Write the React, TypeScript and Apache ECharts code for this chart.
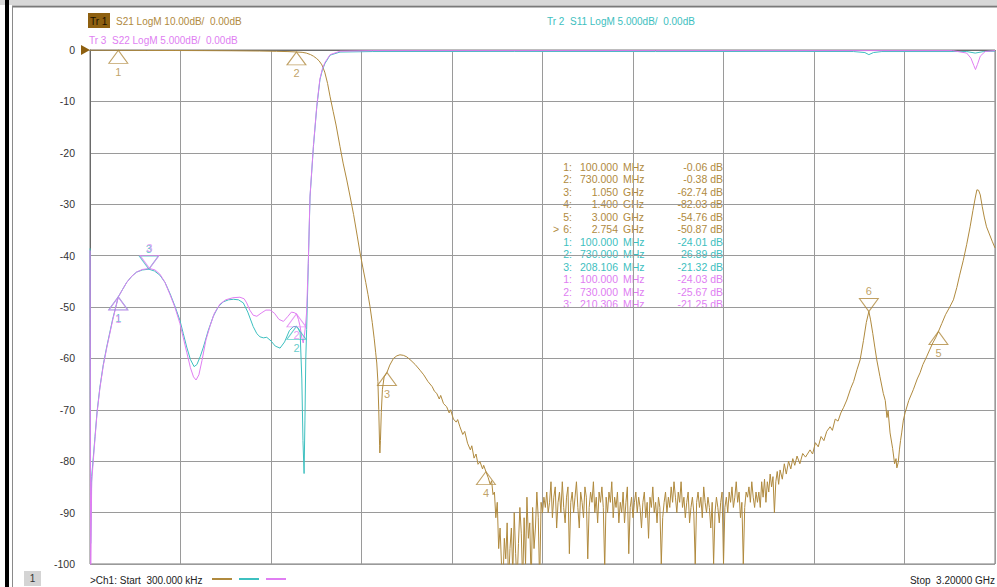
import React, { useEffect, useRef } from "react";
import * as echarts from "echarts";

// ---------- colours ----------
const S21_COLOR = "#B08A3E";
const S11_COLOR = "#3DC0C0";
const S22_COLOR = "#E07EF2";
const TR1_BOX = "#8E6010";
const FONT = "Liberation Sans, Arial, sans-serif";

// ---------- sweep ----------
const startMHz = 0.3;
const stopMHz = 3200;

// ---------- header labels ----------
const tr1Label = "Tr 1";
const tr1Text = "S21 LogM 10.00dB/  0.00dB";
const tr2Text = "Tr 2  S11 LogM 5.000dB/  0.00dB";
const tr3Text = "Tr 3  S22 LogM 5.000dB/  0.00dB";

// ---------- S21 (10 dB/div), [MHz, dB] ----------
const s21Head: [number, number][] = [
  [0.3, -0.02], [50, -0.04], [100, -0.06], [200, -0.08], [300, -0.1], [400, -0.12],
  [500, -0.15], [600, -0.2], [660, -0.26], [700, -0.31], [730, -0.38], [750, -0.45],
  [765, -0.6], [780, -0.9], [790, -1.2], [800, -1.6], [810, -2.1], [820, -2.9],
  [830, -4.3], [840, -6.5], [849, -9.1], [860, -12], [870, -14.6], [884, -18.8],
  [895, -22], [908, -25.3], [920, -28.6], [932, -32], [945, -36.2], [955, -39.5],
  [965, -42.4], [975, -45.2], [983, -47.6], [990, -49.9], [998, -53], [1005, -56.2],
  [1010, -58.8], [1014, -60.9], [1018, -64.5], [1021, -70], [1024, -77], [1025, -78.4],
  [1027, -76], [1030, -70.5], [1034, -66], [1040, -63.6], [1050, -62.74], [1060, -61.3],
  [1073, -60], [1085, -59.5], [1096, -59.3], [1108, -59.4], [1120, -59.7], [1135, -60.4],
  [1150, -61.2], [1167, -62.3], [1180, -63.2], [1195, -64.5], [1210, -65.5], [1218, -66.4],
  [1226, -66.8], [1235, -67.9], [1240, -67.2], [1250, -68.8], [1261, -69.4], [1270, -70.6],
  [1275, -70.0], [1285, -71.8], [1295, -72.4], [1300, -71.9], [1308, -73.3], [1318, -74.8],
  [1325, -74.2], [1335, -76.5], [1345, -77.8], [1350, -77.0], [1358, -79.4], [1365, -78.6],
  [1372, -80.6], [1379, -80.1], [1388, -81.5], [1392, -80.8], [1400, -82.03], [1408, -83.2],
  [1415, -84.5], [1420, -83.8], [1425, -86.5],
];

// noise floor, sweep points every 5 MHz from 1430 MHz
const noiseStartMHz = 1430;
const noiseStepMHz = 5;
const s21NoiseDb: number[] = [
  -86, -91, -88, -97, -93, -100, -104, -95, -99, -92, -104, -97, -93, -102, -90, -98, -104, -96,
  -89, -94, -104, -91, -100, -87, -95, -92, -104, -89, -97, -93, -86, -91, -104, -88, -90,
  -87, -89, -86, -90, -88, -84, -91, -87, -85, -93, -88, -86, -90, -84, -89, -92, -87, -85,
  -98, -88, -86, -90, -87, -84, -89, -93, -86, -88, -91, -85, -87, -99, -89, -86, -88, -84,
  -90, -87, -92, -86, -88, -85, -89, -101, -87, -90, -86, -88, -84, -91, -87, -89, -86, -92, -88,
  -90, -86, -92, -88, -85, -98, -89, -87, -91, -88,
  -86, -90, -87, -89, -93, -88, -86, -91, -88, -95,
  -87, -89, -85, -90, -88, -92, -87, -89, -100, -91,
  -88, -86, -90, -87, -89, -85, -88, -84, -87, -90,
  -86, -88, -84, -89, -87, -91, -88, -86, -92, -89,
  -87, -90, -100, -88, -86, -89, -87, -91, -85, -88,
  -90, -87, -89, -93, -88, -100, -90, -87, -89, -92,
  -88, -86, -100, -89, -87, -90, -86, -88, -85, -89,
  -87, -84, -88, -86, -91, -88, -100, -89, -86, -87,
  -85, -88, -84, -87, -89, -86, -88,
];

const s21Tail: [number, number][] = [
  [2365, -86], [2370, -89], [2375, -84], [2380, -87], [2385, -83.5], [2390, -88], [2395, -84],
  [2400, -86], [2405, -82.5], [2410, -85], [2415, -83], [2420, -90], [2425, -84], [2430, -82],
  [2435, -84.5], [2440, -81.7], [2448, -83.5], [2455, -80.5], [2462, -82.5], [2470, -80],
  [2478, -81.5], [2485, -79.5], [2492, -80.8], [2500, -79], [2510, -80.5], [2520, -78.5],
  [2530, -79.2], [2546, -77.8], [2555, -78.6], [2565, -76.4], [2575, -77.2], [2585, -75.2],
  [2595, -76], [2605, -74.2], [2617, -73.3], [2625, -74], [2635, -71.8], [2645, -72.2],
  [2655, -70.6], [2665, -69.5], [2676, -68.1], [2690, -65.8], [2700, -64.5], [2712, -62.2],
  [2723, -60.3], [2735, -56.5], [2745, -53], [2754, -50.87], [2760, -52.5], [2768, -55.2],
  [2775, -57.8], [2782, -60.3], [2793, -63.5], [2805, -66.8], [2812, -68.2], [2818, -71.5],
  [2822, -70.2], [2829, -74.5], [2838, -77.5], [2845, -80.5], [2850, -79.5], [2853, -81.3],
  [2858, -80.2], [2862, -77.8], [2866, -76], [2870, -74.5], [2876, -72], [2882, -70.6],
  [2895, -68.2], [2911, -66.1], [2925, -64], [2935, -62.8], [2945, -61.2], [2958, -59.7],
  [2970, -58.2], [2980, -57], [2990, -56], [3000, -54.76], [3012, -53.2], [3025, -51.5],
  [3040, -50], [3053, -48.6], [3065, -46.2], [3075, -43.8], [3088, -40.9], [3100, -37.8],
  [3112, -34.4], [3122, -31.2], [3130, -28.8], [3136, -27.2], [3142, -27.3], [3148, -28.2],
  [3155, -30.5], [3162, -32.5], [3170, -34.4], [3180, -35.8], [3190, -37.2], [3200, -38.5],
];

// ---------- S11 (5 dB/div), [MHz, dB] ----------
const s11Curve: [number, number][] = [
  [0.3, -19.3], [2.3, -48], [6, -41.5], [12, -39.5], [17.7, -37.6], [25, -35.2], [35, -32.8],
  [47, -30.6], [59, -28.9], [80, -26.2], [100, -24.01], [115, -23.3], [130, -22.6], [148, -22],
  [165, -21.6], [185, -21.4], [208.106, -21.32], [228, -21.5], [247, -21.9], [265, -22.6],
  [283, -23.7], [300, -24.9], [318, -26.3], [330, -27.6], [342, -28.9], [355, -30.1],
  [368, -30.8], [378, -30.6], [390, -29.8], [401, -28.9], [418, -27.3], [436, -25.9],
  [453, -25], [471, -24.5], [490, -24.3], [507, -24.25], [525, -24.3], [542, -24.6],
  [558, -25.5], [577, -26.9], [590, -27.6], [601, -27.9], [613, -28.0], [625, -27.95],
  [640, -28.3], [655, -28.8], [672, -29], [688, -28.4], [705, -27.3], [719, -26.9],
  [730, -26.89], [737, -27.1], [743, -27.5], [749, -32], [753, -38], [757, -41.2], [760, -36],
  [763, -30], [766, -27.2], [772, -20.75], [778, -14.3], [790, -9.4], [802, -5.5], [813, -2.9],
  [822, -1.9], [831, -1.3], [849, -0.5], [884, -0.2], [1000, -0.15], [1500, -0.14],
  [2000, -0.15], [2500, -0.14], [2700, -0.15], [2740, -0.25], [2754, -0.45], [2770, -0.25],
  [2800, -0.15], [3100, -0.15], [3130, -0.3], [3160, -0.15], [3200, -0.12],
];

// ---------- S22 (5 dB/div), [MHz, dB] ----------
const s22Curve: [number, number][] = [
  [0.3, -19.5], [2.3, -52], [6, -42], [12, -39.8], [17.7, -37.8], [25, -35.3], [35, -32.9],
  [47, -30.7], [59, -29], [80, -26.3], [100, -24.03], [115, -23.3], [130, -22.6], [148, -22],
  [165, -21.6], [185, -21.35], [210.306, -21.25], [230, -21.4], [247, -21.8], [265, -22.6],
  [283, -23.8], [300, -25], [318, -26.6], [330, -28], [342, -29.4], [355, -30.9], [366, -31.8],
  [375, -32.1], [385, -31.6], [396, -30.2], [410, -28.2], [425, -26.8], [440, -25.6],
  [460, -24.7], [480, -24.3], [505, -24.1], [530, -24.05], [545, -24.2], [554, -24.6],
  [565, -25.3], [577, -25.8], [590, -25.9], [605, -25.6], [622, -25.3], [637, -25.3],
  [652, -25.6], [668, -26.2], [684, -26.4], [700, -25.9], [712, -25.5], [722, -25.55],
  [730, -25.67], [737, -26.2], [743, -26.9], [749, -28], [754, -28.5], [758, -27.8],
  [762, -26.8], [766, -25.5], [772, -20.5], [778, -14.2], [790, -9.3], [802, -5.4],
  [813, -2.8], [822, -1.8], [831, -1.2], [849, -0.45], [884, -0.12], [1000, -0.06],
  [2000, -0.06], [3050, -0.06], [3100, -0.3], [3115, -0.8], [3125, -1.5], [3131, -1.9],
  [3138, -1.4], [3148, -0.6], [3165, -0.15], [3200, -0.06],
];

// ---------- markers ----------
const s21MarkerIds = [1, 2, 3, 4, 5, 6];
const s21MarkerMHz = [100, 730, 1050, 1400, 3000, 2754];
const s21MarkerDb = [-0.06, -0.38, -62.74, -82.03, -54.76, -50.87];
const s21MarkerDown = [false, false, false, false, false, true];
const s21ActiveMarker = 6;

const s11MarkerIds = [1, 2, 3];
const s11MarkerMHz = [100, 730, 208.106];
const s11MarkerDb = [-24.01, -26.89, -21.32];
const s11MarkerDown = [false, false, true];

const s22MarkerIds = [1, 2, 3];
const s22MarkerMHz = [100, 730, 210.306];
const s22MarkerDb = [-24.03, -25.67, -21.25];
const s22MarkerDown = [false, false, true];

const UP_TRI = "path://M9.5,0 L19,13 L0,13 Z";
const DOWN_TRI = "path://M0,0 L19,0 L9.5,13 Z";

function markerSeries(
  ids: number[], mhz: number[], db: number[], down: boolean[], color: string, yAxisIndex: number, wantDown: boolean
) {
  const data: any[] = [];
  ids.forEach((id, i) => {
    if (down[i] === wantDown) data.push({ value: [mhz[i], db[i]], name: String(id) });
  });
  return {
    type: "scatter",
    yAxisIndex,
    data,
    symbol: wantDown ? DOWN_TRI : UP_TRI,
    symbolSize: [19, 13],
    symbolOffset: [0, wantDown ? -6.5 : 6.5],
    itemStyle: { color: "rgba(0,0,0,0)", borderColor: color, borderWidth: 1 },
    label: {
      show: true,
      position: "inside",
      offset: [0, wantDown ? -14 : 15],
      formatter: (p: any) => p.name,
      color,
      fontSize: 11,
      fontFamily: FONT,
    },
    emphasis: { disabled: true },
    z: 5,
  };
}

function fmtFreq(f: number): [string, string] {
  if (f < 1000) return [f.toFixed(3), "MHz"];
  return [(f / 1000).toFixed(3), "GHz"];
}

export default function App() {
  const ref = useRef<HTMLDivElement>(null);

  useEffect(() => {
    if (!ref.current) return;
    const chart = echarts.init(ref.current, undefined, { renderer: "svg" });

    const s21Data: [number, number][] = [
      ...s21Head,
      ...s21NoiseDb.map((v, i) => [noiseStartMHz + i * noiseStepMHz, v] as [number, number]),
      ...s21Tail,
    ];

    // marker table rows
    const rows: { color: string; active: boolean; id: number; f: number; db: number }[] = [];
    s21MarkerIds.forEach((id, i) =>
      rows.push({ color: S21_COLOR, active: id === s21ActiveMarker, id, f: s21MarkerMHz[i], db: s21MarkerDb[i] })
    );
    s11MarkerIds.forEach((id, i) =>
      rows.push({ color: S11_COLOR, active: false, id, f: s11MarkerMHz[i], db: s11MarkerDb[i] })
    );
    s22MarkerIds.forEach((id, i) =>
      rows.push({ color: S22_COLOR, active: false, id, f: s22MarkerMHz[i], db: s22MarkerDb[i] })
    );
    const tableEls: any[] = [];
    rows.forEach((r, i) => {
      const y = 166.5 + i * 12.5;
      const [fv, fu] = fmtFreq(r.f);
      const base = { fontSize: 10.5, fontFamily: FONT, fill: r.color, verticalAlign: "middle" };
      if (r.active) tableEls.push({ type: "text", x: 553, y, style: { ...base, text: ">", align: "left" } });
      tableEls.push({ type: "text", x: 572, y, style: { ...base, text: `${r.id}:`, align: "right" } });
      tableEls.push({ type: "text", x: 618, y, style: { ...base, text: fv, align: "right" } });
      tableEls.push({ type: "text", x: 623, y, style: { ...base, text: fu, align: "left" } });
      tableEls.push({ type: "text", x: 723, y, style: { ...base, text: `${r.db.toFixed(2)} dB`, align: "right" } });
    });

    const txt = (x: number, y: number, text: string, fill: string, align = "left", size = 10) => ({
      type: "text",
      x,
      y,
      silent: true,
      style: { text, fill, fontSize: size, fontFamily: FONT, align, verticalAlign: "middle" },
    });

    const option: any = {
      animation: false,
      backgroundColor: "#ffffff",
      grid: { left: 90, top: 50, width: 905, height: 514, show: true, borderColor: "#7a7a7a", borderWidth: 1 },
      xAxis: {
        type: "value",
        min: 0,
        max: stopMHz,
        interval: 320,
        axisLabel: { show: false },
        axisTick: { show: false },
        axisLine: { show: true, lineStyle: { color: "#6a6a6a" } },
        splitLine: { show: true, lineStyle: { color: "#9a9a9a", width: 1 } },
      },
      yAxis: [
        {
          type: "value",
          min: -100,
          max: 0,
          interval: 10,
          axisLabel: { color: "#333", fontSize: 10.5, fontFamily: FONT, margin: 15 },
          axisTick: { show: false },
          axisLine: { show: true, lineStyle: { color: "#6a6a6a" } },
          splitLine: { show: true, lineStyle: { color: "#9a9a9a", width: 1 } },
        },
        {
          type: "value",
          min: -50,
          max: 0,
          interval: 5,
          show: false,
          splitLine: { show: false },
        },
      ],
      series: [
        {
          type: "line",
          name: "S21",
          data: s21Data,
          yAxisIndex: 0,
          symbol: "none",
          clip: true,
          lineStyle: { color: S21_COLOR, width: 1 },
          z: 3,
        },
        {
          type: "line",
          name: "S11",
          data: s11Curve,
          yAxisIndex: 1,
          symbol: "none",
          clip: true,
          lineStyle: { color: S11_COLOR, width: 1 },
          z: 3,
        },
        {
          type: "line",
          name: "S22",
          data: s22Curve,
          yAxisIndex: 1,
          symbol: "none",
          clip: true,
          lineStyle: { color: S22_COLOR, width: 1 },
          z: 3,
        },
        markerSeries(s21MarkerIds, s21MarkerMHz, s21MarkerDb, s21MarkerDown, S21_COLOR, 0, false),
        markerSeries(s21MarkerIds, s21MarkerMHz, s21MarkerDb, s21MarkerDown, S21_COLOR, 0, true),
        markerSeries(s11MarkerIds, s11MarkerMHz, s11MarkerDb, s11MarkerDown, S11_COLOR, 1, false),
        markerSeries(s11MarkerIds, s11MarkerMHz, s11MarkerDb, s11MarkerDown, S11_COLOR, 1, true),
        markerSeries(s22MarkerIds, s22MarkerMHz, s22MarkerDb, s22MarkerDown, S22_COLOR, 1, false),
        markerSeries(s22MarkerIds, s22MarkerMHz, s22MarkerDb, s22MarkerDown, S22_COLOR, 1, true),
      ],
      graphic: [
        { type: "rect", silent: true, shape: { x: 0, y: 0, width: 997, height: 5 }, style: { fill: "#d8d8d8" } },
        { type: "line", silent: true, shape: { x1: 12, y1: 6.5, x2: 997, y2: 6.5 }, style: { stroke: "#7a7a7a", lineWidth: 2 } },
        { type: "rect", silent: true, shape: { x: 5, y: 0, width: 4, height: 587 }, style: { fill: "#000" } },
        { type: "line", silent: true, shape: { x1: 12.5, y1: 6, x2: 12.5, y2: 587 }, style: { stroke: "#8a8a8a", lineWidth: 1 } },
        { type: "polygon", silent: true, shape: { points: [[81, 45], [81, 55], [90, 50]] }, style: { fill: TR1_BOX } },
        { type: "rect", silent: true, shape: { x: 88, y: 13, width: 22, height: 15 }, style: { fill: TR1_BOX } },
        txt(90, 21, tr1Label, "#1a1200"),
        txt(116, 21, tr1Text, S21_COLOR),
        txt(547, 21, tr2Text, S11_COLOR),
        txt(89, 40, tr3Text, S22_COLOR),
        ...tableEls,
        { type: "rect", silent: true, shape: { x: 24, y: 571, width: 17, height: 15 }, style: { fill: "#d4d4d4" } },
        txt(32.5, 578.5, "1", "#333", "center"),
        txt(90, 580, `>Ch1: Start  ${(startMHz * 1000).toFixed(3)} kHz`, "#222"),
        { type: "line", silent: true, shape: { x1: 212, y1: 579, x2: 232, y2: 579 }, style: { stroke: S21_COLOR, lineWidth: 2 } },
        { type: "line", silent: true, shape: { x1: 239, y1: 579, x2: 259, y2: 579 }, style: { stroke: S11_COLOR, lineWidth: 2 } },
        { type: "line", silent: true, shape: { x1: 266, y1: 579, x2: 286, y2: 579 }, style: { stroke: S22_COLOR, lineWidth: 2 } },
        txt(995, 580, `Stop  ${(stopMHz / 1000).toFixed(5)} GHz`, "#222", "right"),
      ],
    };

    chart.setOption(option);
    return () => chart.dispose();
  }, []);

  return (
    <div
      ref={ref}
      style={{ position: "fixed", left: 0, top: 0, width: 997, height: 587, background: "#fff" }}
    />
  );
}
